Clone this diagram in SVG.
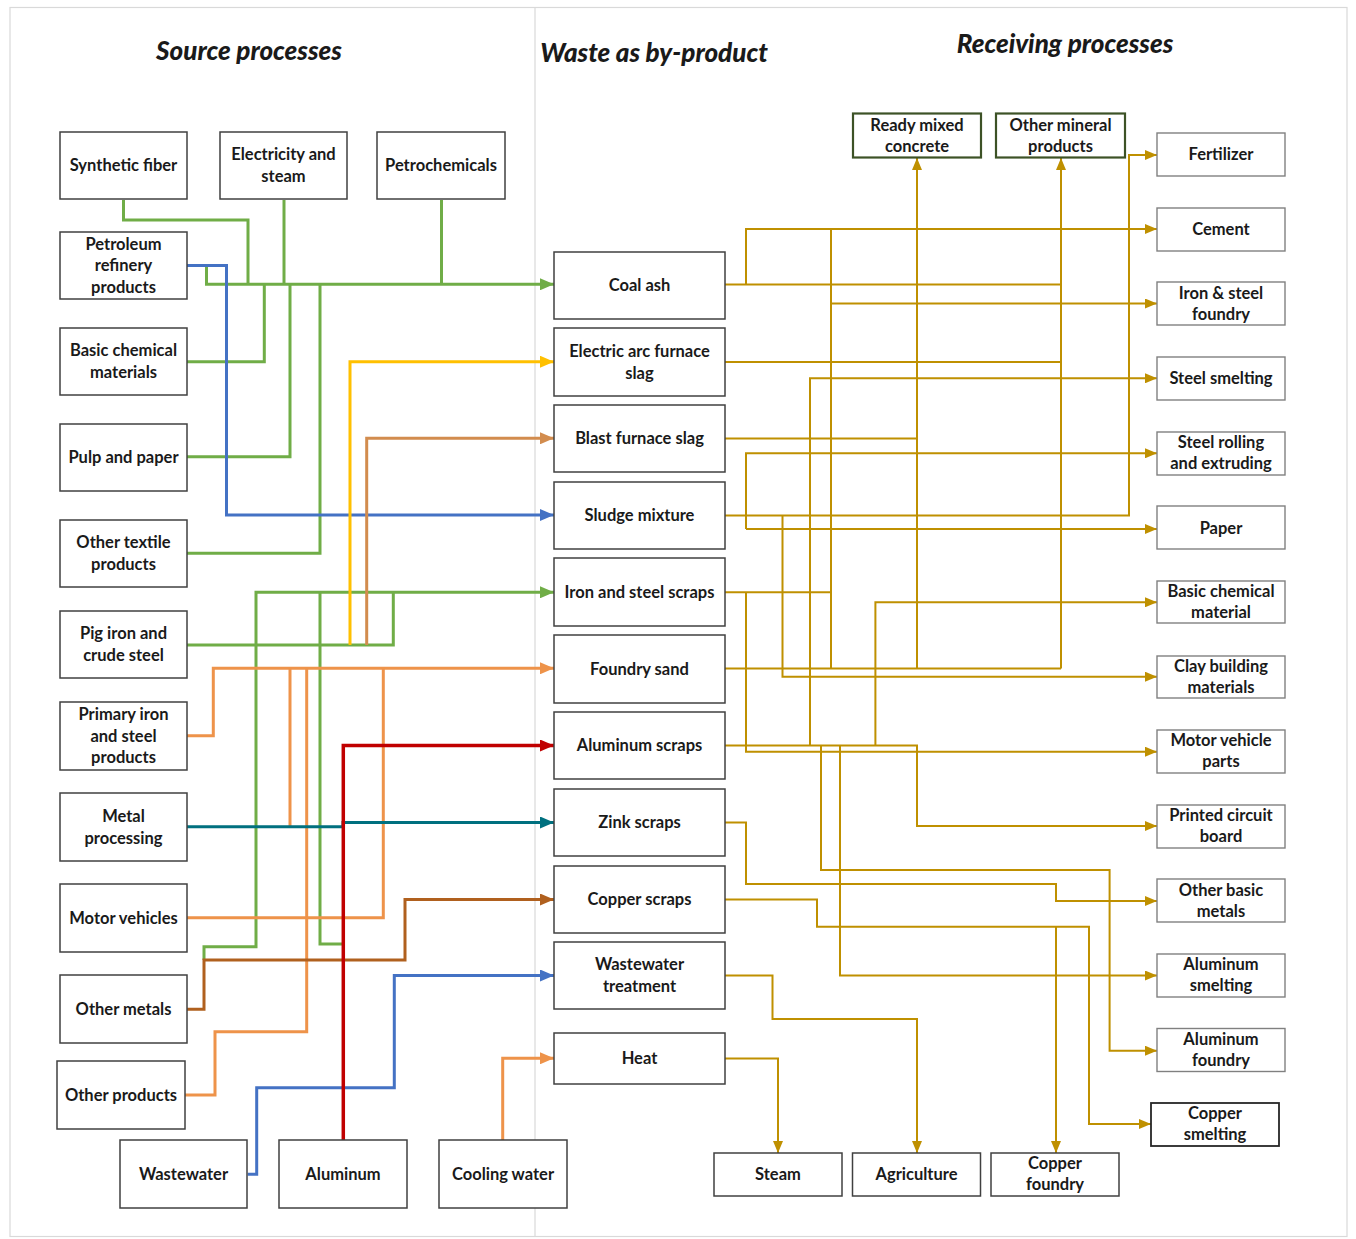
<svg xmlns="http://www.w3.org/2000/svg" width="1356" height="1239" viewBox="0 0 1356 1239">
<style>
text{font-family:Lato,"Open Sans","Liberation Sans",sans-serif;font-weight:bold;font-size:16.5px;fill:#1a1a1a;text-anchor:middle}
.title{font-size:26px;font-style:italic;font-weight:900}
.bx{fill:#fff;stroke:#404040;stroke-width:1.5}
.rb{fill:#fff;stroke:#808080;stroke-width:1.4}
.gb{fill:#fff;stroke:#3d5226;stroke-width:2.2}
.l{fill:none;stroke-width:3;stroke-linejoin:miter}
.g{stroke:#70AD47}.b{stroke:#4472C4}.y{stroke:#FFC000}.t{stroke:#D28C4E}.o{stroke:#EE934A}.r{stroke:#C00000;stroke-width:3.5}.tl{stroke:#00707F}.br{stroke:#B0601E}
.au{fill:none;stroke:#BF9000;stroke-width:2}
</style>
<defs>
<marker id="mg" markerUnits="userSpaceOnUse" markerWidth="14" markerHeight="12" refX="14" refY="6" orient="auto"><path d="M0,0L14,6L0,12z" fill="#70AD47"/></marker>
<marker id="mb" markerUnits="userSpaceOnUse" markerWidth="14" markerHeight="12" refX="14" refY="6" orient="auto"><path d="M0,0L14,6L0,12z" fill="#4472C4"/></marker>
<marker id="my" markerUnits="userSpaceOnUse" markerWidth="14" markerHeight="12" refX="14" refY="6" orient="auto"><path d="M0,0L14,6L0,12z" fill="#FFC000"/></marker>
<marker id="mt" markerUnits="userSpaceOnUse" markerWidth="14" markerHeight="12" refX="14" refY="6" orient="auto"><path d="M0,0L14,6L0,12z" fill="#D28C4E"/></marker>
<marker id="mo" markerUnits="userSpaceOnUse" markerWidth="14" markerHeight="12" refX="14" refY="6" orient="auto"><path d="M0,0L14,6L0,12z" fill="#EE934A"/></marker>
<marker id="mr" markerUnits="userSpaceOnUse" markerWidth="14" markerHeight="12" refX="14" refY="6" orient="auto"><path d="M0,0L14,6L0,12z" fill="#C00000"/></marker>
<marker id="mtl" markerUnits="userSpaceOnUse" markerWidth="14" markerHeight="12" refX="14" refY="6" orient="auto"><path d="M0,0L14,6L0,12z" fill="#00707F"/></marker>
<marker id="mbr" markerUnits="userSpaceOnUse" markerWidth="14" markerHeight="12" refX="14" refY="6" orient="auto"><path d="M0,0L14,6L0,12z" fill="#B0601E"/></marker>
<marker id="ma" markerUnits="userSpaceOnUse" markerWidth="12" markerHeight="10" refX="12" refY="5" orient="auto"><path d="M0,0L12,5L0,10z" fill="#BF9000"/></marker>
</defs>
<rect x="0" y="0" width="1356" height="1239" fill="#fff"/>
<rect x="10" y="7.5" width="1337" height="1229" fill="none" stroke="#D9D9D9" stroke-width="1.2"/>
<line x1="535" y1="7.5" x2="535" y2="1236.5" stroke="#D9D9D9" stroke-width="1.2"/>
<g id="titles">
<text class="title" x="249" y="60">Source processes</text>
<text class="title" x="654" y="62">Waste as by-product</text>
<text class="title" x="1065" y="53">Receiving processes</text>
</g>
<g id="connectors">
<path class="l g" d="M123.5,200V220H248V284.3"/>
<path class="l g" d="M284,200V284.3"/>
<path class="l g" d="M441.5,200V284.3"/>
<path class="l g" d="M206.5,265.5V284.3H554" marker-end="url(#mg)"/>
<path class="l g" d="M187,361.7H264.3V284.3"/>
<path class="l g" d="M187,456.7H290V284.3"/>
<path class="l g" d="M187,553.3H320V284.3"/>
<path class="l g" d="M204,960V946.7H256V592.3H554" marker-end="url(#mg)"/>
<path class="l g" d="M187,645H393.3V592.3"/>
<path class="l g" d="M342,944H320V592.3"/>
<path class="l b" d="M187,265.5H226.5V515H554" marker-end="url(#mb)"/>
<path class="l b" d="M247.7,1174.3H256.7V1087.7H394.3V975.5H554" marker-end="url(#mb)"/>
<path class="l y" d="M350,645V361.7H554" marker-end="url(#my)"/>
<path class="l t" d="M366.7,645V438.3H554" marker-end="url(#mt)"/>
<path class="l o" d="M187,735.7H213.3V668.3H554" marker-end="url(#mo)"/>
<path class="l o" d="M290,668.3V826.7"/>
<path class="l o" d="M306.7,668.3V1031.7H215V1095H185"/>
<path class="l o" d="M383.3,668.3V917.7H187"/>
<path class="l o" d="M502.7,1140V1058.3H554" marker-end="url(#mo)"/>
<path class="l tl" d="M187,826.7H343V822.5H554" marker-end="url(#mtl)"/>
<path class="l br" d="M187,1009.3H204V960H405V899.5H554" marker-end="url(#mbr)"/>
<path class="l r" d="M343.3,1140V745.5H554" marker-end="url(#mr)"/>
<path class="au" d="M725,284.5H1061"/>
<path class="au" d="M746,284.5V229H1157" marker-end="url(#ma)"/>
<path class="au" d="M831,229V668.5"/>
<path class="au" d="M831,303.5H1157" marker-end="url(#ma)"/>
<path class="au" d="M917,668.5V158" marker-end="url(#ma)"/>
<path class="au" d="M1061,668.5V158" marker-end="url(#ma)"/>
<path class="au" d="M725,362H1061"/>
<path class="au" d="M810,745.5V378.3H1157" marker-end="url(#ma)"/>
<path class="au" d="M725,438.5H917"/>
<path class="au" d="M746,529V453.3H1157" marker-end="url(#ma)"/>
<path class="au" d="M746,529H1157" marker-end="url(#ma)"/>
<path class="au" d="M725,515.5H1129V155H1157" marker-end="url(#ma)"/>
<path class="au" d="M782.5,515.5V676.7H1157" marker-end="url(#ma)"/>
<path class="au" d="M725,592.3H831"/>
<path class="au" d="M746,592.3V751.7H1157" marker-end="url(#ma)"/>
<path class="au" d="M875.4,745.5V602.3H1157" marker-end="url(#ma)"/>
<path class="au" d="M725,668.5H1061"/>
<path class="au" d="M725,745.5H917V826H1157" marker-end="url(#ma)"/>
<path class="au" d="M821,745.5V870H1109.6V1050.7H1157" marker-end="url(#ma)"/>
<path class="au" d="M840,745.5V975.5H1157" marker-end="url(#ma)"/>
<path class="au" d="M725,822.5H746V884H1056V901H1157" marker-end="url(#ma)"/>
<path class="au" d="M725,899.5H817V926.7H1089V1124H1151" marker-end="url(#ma)"/>
<path class="au" d="M1056,926.7V1153" marker-end="url(#ma)"/>
<path class="au" d="M725,975.5H772.5V1019H917V1153" marker-end="url(#ma)"/>
<path class="au" d="M725,1058.5H778V1153" marker-end="url(#ma)"/>
</g>
<g id="n-synthetic-fiber"><rect class="bx" x="60" y="132" width="127" height="67"/><text x="123.5" y="171">Synthetic fiber</text></g>
<g id="n-electricity"><rect class="bx" x="220" y="132" width="127" height="67"/><text x="283.5" y="160">Electricity and</text><text x="283.5" y="182">steam</text></g>
<g id="n-petrochemicals"><rect class="bx" x="377" y="132" width="128" height="67"/><text x="441" y="171">Petrochemicals</text></g>
<g id="n-petroleum"><rect class="bx" x="60" y="232" width="127" height="67"/><text x="123.5" y="249.5">Petroleum</text><text x="123.5" y="271">refinery</text><text x="123.5" y="292.5">products</text></g>
<g id="n-basic-chemical"><rect class="bx" x="60" y="328" width="127" height="67"/><text x="123.5" y="356">Basic chemical</text><text x="123.5" y="378">materials</text></g>
<g id="n-pulp"><rect class="bx" x="60" y="424" width="127" height="67"/><text x="123.5" y="463">Pulp and paper</text></g>
<g id="n-other-textile"><rect class="bx" x="60" y="520" width="127" height="67"/><text x="123.5" y="548">Other textile</text><text x="123.5" y="570">products</text></g>
<g id="n-pig-iron"><rect class="bx" x="60" y="611" width="127" height="67"/><text x="123.5" y="639">Pig iron and</text><text x="123.5" y="661">crude steel</text></g>
<g id="n-primary-iron"><rect class="bx" x="60" y="702" width="127" height="68"/><text x="123.5" y="720">Primary iron</text><text x="123.5" y="741.5">and steel</text><text x="123.5" y="763">products</text></g>
<g id="n-metal-processing"><rect class="bx" x="60" y="793" width="127" height="68"/><text x="123.5" y="821.5">Metal</text><text x="123.5" y="843.5">processing</text></g>
<g id="n-motor-vehicles"><rect class="bx" x="60" y="884" width="127" height="68"/><text x="123.5" y="923.5">Motor vehicles</text></g>
<g id="n-other-metals"><rect class="bx" x="60" y="975" width="127" height="68"/><text x="123.5" y="1014.5">Other metals</text></g>
<g id="n-other-products"><rect class="bx" x="57" y="1061" width="128" height="68"/><text x="121" y="1100.5">Other products</text></g>
<g id="n-wastewater"><rect class="bx" x="120" y="1140" width="127" height="68"/><text x="183.5" y="1179.5">Wastewater</text></g>
<g id="n-aluminum"><rect class="bx" x="279" y="1140" width="128" height="68"/><text x="343" y="1179.5">Aluminum</text></g>
<g id="n-cooling-water"><rect class="bx" x="439" y="1140" width="128" height="68"/><text x="503" y="1179.5">Cooling water</text></g>
<g id="w-coal-ash"><rect class="bx" x="554" y="252" width="171" height="67"/><text x="639.5" y="291">Coal ash</text></g>
<g id="w-eaf-slag"><rect class="bx" x="554" y="328" width="171" height="68"/><text x="639.5" y="356.5">Electric arc furnace</text><text x="639.5" y="378.5">slag</text></g>
<g id="w-blast-slag"><rect class="bx" x="554" y="405" width="171" height="67"/><text x="639.5" y="444">Blast furnace slag</text></g>
<g id="w-sludge"><rect class="bx" x="554" y="482" width="171" height="67"/><text x="639.5" y="521">Sludge mixture</text></g>
<g id="w-iron-scraps"><rect class="bx" x="554" y="558" width="171" height="68"/><text x="639.5" y="597.5">Iron and steel scraps</text></g>
<g id="w-foundry-sand"><rect class="bx" x="554" y="635" width="171" height="68"/><text x="639.5" y="674.5">Foundry sand</text></g>
<g id="w-aluminum-scraps"><rect class="bx" x="554" y="712" width="171" height="67"/><text x="639.5" y="751">Aluminum scraps</text></g>
<g id="w-zink-scraps"><rect class="bx" x="554" y="789" width="171" height="67"/><text x="639.5" y="828">Zink scraps</text></g>
<g id="w-copper-scraps"><rect class="bx" x="554" y="866" width="171" height="67"/><text x="639.5" y="905">Copper scraps</text></g>
<g id="w-wastewater-treatment"><rect class="bx" x="554" y="942" width="171" height="67"/><text x="639.5" y="970">Wastewater</text><text x="639.5" y="992">treatment</text></g>
<g id="w-heat"><rect class="bx" x="554" y="1033" width="171" height="51"/><text x="639.5" y="1064">Heat</text></g>
<g id="r-ready-mixed"><rect class="gb" x="853" y="113.5" width="128" height="44"/><text x="917" y="130.5">Ready mixed</text><text x="917" y="151.5">concrete</text></g>
<g id="r-other-mineral"><rect class="gb" x="996" y="113.5" width="129" height="44"/><text x="1060.5" y="130.5">Other mineral</text><text x="1060.5" y="151.5">products</text></g>
<g id="r-fertilizer"><rect class="rb" x="1157" y="133" width="128" height="43"/><text x="1221" y="160">Fertilizer</text></g>
<g id="r-cement"><rect class="rb" x="1157" y="208" width="128" height="43"/><text x="1221" y="235">Cement</text></g>
<g id="r-iron-foundry"><rect class="rb" x="1157" y="282" width="128" height="43"/><text x="1221" y="298.5">Iron &amp; steel</text><text x="1221" y="319.5">foundry</text></g>
<g id="r-steel-smelting"><rect class="rb" x="1157" y="357" width="128" height="43"/><text x="1221" y="384">Steel smelting</text></g>
<g id="r-steel-rolling"><rect class="rb" x="1157" y="432" width="128" height="43"/><text x="1221" y="448">Steel rolling</text><text x="1221" y="469">and extruding</text></g>
<g id="r-paper"><rect class="rb" x="1157" y="506" width="128" height="43"/><text x="1221" y="533.5">Paper</text></g>
<g id="r-basic-chemical"><rect class="rb" x="1157" y="581" width="128" height="42"/><text x="1221" y="597">Basic chemical</text><text x="1221" y="618">material</text></g>
<g id="r-clay"><rect class="rb" x="1157" y="656" width="128" height="42"/><text x="1221" y="672">Clay building</text><text x="1221" y="693">materials</text></g>
<g id="r-motor-parts"><rect class="rb" x="1157" y="730" width="128" height="43"/><text x="1221" y="746">Motor vehicle</text><text x="1221" y="767">parts</text></g>
<g id="r-pcb"><rect class="rb" x="1157" y="805" width="128" height="43"/><text x="1221" y="821">Printed circuit</text><text x="1221" y="842">board</text></g>
<g id="r-other-basic"><rect class="rb" x="1157" y="879" width="128" height="43"/><text x="1221" y="895.5">Other basic</text><text x="1221" y="916.5">metals</text></g>
<g id="r-al-smelting"><rect class="rb" x="1157" y="954" width="128" height="43"/><text x="1221" y="970">Aluminum</text><text x="1221" y="991">smelting</text></g>
<g id="r-al-foundry"><rect class="rb" x="1157" y="1028.5" width="128" height="43"/><text x="1221" y="1045">Aluminum</text><text x="1221" y="1066">foundry</text></g>
<g id="r-copper-smelting"><rect class="bx" x="1151" y="1103" width="128" height="43" style="stroke:#262626;stroke-width:1.8"/><text x="1215" y="1119">Copper</text><text x="1215" y="1140">smelting</text></g>
<g id="r-steam"><rect class="bx" x="714" y="1153" width="128" height="43"/><text x="778" y="1180">Steam</text></g>
<g id="r-agriculture"><rect class="bx" x="852.5" y="1153" width="128" height="43"/><text x="916.5" y="1180">Agriculture</text></g>
<g id="r-copper-foundry"><rect class="bx" x="991" y="1153" width="128" height="43"/><text x="1055" y="1169">Copper</text><text x="1055" y="1190">foundry</text></g>
</svg>
